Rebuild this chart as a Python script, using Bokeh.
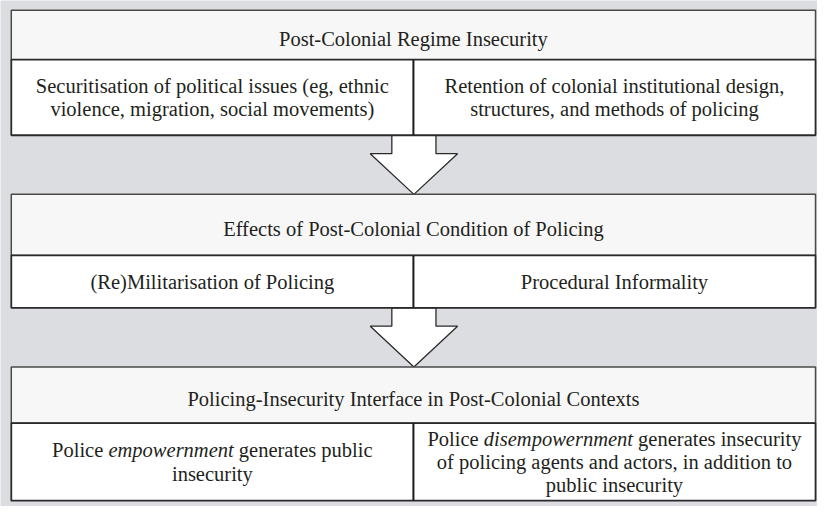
from bokeh.plotting import figure
from bokeh.models import Range1d
from bokeh.embed import file_html
from bokeh.resources import INLINE
from bokeh.core.properties import value

# ---------------- content ----------------
headers = [
    "Post-Colonial Regime Insecurity",
    "Effects of Post-Colonial Condition of Policing",
    "Policing-Insecurity Interface in Post-Colonial Contexts",
]
left_cells = [
    ["Securitisation of political issues (eg, ethnic",
     "violence, migration, social movements)"],
    ["(Re)Militarisation of Policing"],
    ["Police *empowernment* generates public",
     "insecurity"],
]
right_cells = [
    ["Retention of colonial institutional design,",
     "structures, and methods of policing"],
    ["Procedural Informality"],
    ["Police *disempowernment* generates insecurity",
     "of policing agents and actors, in addition to",
     "public insecurity"],
]

# ---------------- layout (reference pixel coordinates) ----------------
BOX_X0, BOX_X1, MID = 11, 831, 421
box_top = [10, 200, 378]
header_bottom = [61, 263, 436]
box_bottom = [139, 317, 516]
SHAFT_HALF, HEAD_HALF, SHAFT_LEN = 22.5, 44.5, 19
LINE = 24
FONT = "Liberation Serif"
FS = 20.5
BG = "#dcdde0"
HEAD_FILL = "#f7f7f7"
TXT = "#231f20"
EDGE = "#4a4a4a"

W, H = 817, 506
XR = (0, 833)
YR = (522, 0)
XSCALE = W / (XR[1] - XR[0])

# approximate Times metrics (Liberation Serif is metric compatible)
ROMAN = {" ": 250, "P": 556, "a": 444, "b": 500, "c": 444, "e": 444, "g": 500,
         "i": 278, "l": 278, "n": 500, "o": 500, "p": 500, "r": 333, "s": 389,
         "t": 278, "u": 500, "y": 500}
ITALIC = {"d": 500, "e": 444, "i": 278, "m": 722, "n": 500, "o": 500, "p": 500,
          "r": 389, "s": 389, "t": 278, "w": 667}


def width_units(s, table):
    px = sum(table.get(ch, 500) for ch in s) / 1000.0 * FS
    return px / XSCALE


p = figure(width=W, height=H, x_range=Range1d(*XR), y_range=Range1d(*YR),
           output_backend="svg", toolbar_location=None, min_border=0)
p.axis.visible = False
p.grid.visible = False
p.outline_line_color = None
p.background_fill_color = BG
p.border_fill_color = BG


def put_text(x, y, t, align="center", style="normal"):
    p.text(x=[x], y=[y], text=[t], text_font=value(FONT),
           text_font_size=value(f"{FS}px"), text_align=align,
           text_baseline="middle", text_color=TXT, text_font_style=style)


def put_line(cx, y, line):
    if "*" not in line:
        put_text(cx, y, line)
        return
    pre, ital, post = line.split("*")
    wp = width_units(pre, ROMAN)
    wi = width_units(ital, ITALIC)
    wq = width_units(post, ROMAN)
    x_pre = cx - (wp + wi + wq) / 2
    sp = width_units(" ", ROMAN)
    put_text(x_pre, y, pre.strip(), align="left")
    put_text(x_pre + wp, y, ital, align="left", style="italic")
    put_text(x_pre + wp + wi + sp, y, post.strip(), align="left")


# arrows between boxes
cx_arrow = (BOX_X0 + BOX_X1) / 2 + 0.5
for i in range(len(headers) - 1):
    top = box_bottom[i]
    se = top + SHAFT_LEN
    tip = box_top[i + 1]
    xs = [cx_arrow - SHAFT_HALF, cx_arrow - SHAFT_HALF, cx_arrow - HEAD_HALF, cx_arrow,
          cx_arrow + HEAD_HALF, cx_arrow + SHAFT_HALF, cx_arrow + SHAFT_HALF]
    ys = [top, se, se, tip, se, se, top]
    p.patch(xs, ys, fill_color="white", line_color="#2a2a2a", line_width=1.3)

# boxes
for i in range(len(headers)):
    p.quad(left=[BOX_X0], right=[BOX_X1], top=[box_top[i]], bottom=[header_bottom[i]],
           fill_color=HEAD_FILL, line_color=EDGE, line_width=1.5)
    p.quad(left=[BOX_X0], right=[BOX_X1], top=[header_bottom[i]], bottom=[box_bottom[i]],
           fill_color="white", line_color="#2a2a2a", line_width=1.8)
    p.segment(x0=[MID], x1=[MID], y0=[header_bottom[i]], y1=[box_bottom[i]],
              line_color="#1a1a1a", line_width=2)

    put_text((BOX_X0 + BOX_X1) / 2, (box_top[i] + header_bottom[i]) / 2 + 4, headers[i])

    yc = (header_bottom[i] + box_bottom[i]) / 2
    for cells, cx in ((left_cells[i], (BOX_X0 + MID) / 2), (right_cells[i], (MID + BOX_X1) / 2)):
        n = len(cells)
        for k, line in enumerate(cells):
            put_line(cx, yc + (k - (n - 1) / 2) * LINE, line)

open("out.html", "w").write(file_html(p, INLINE))
